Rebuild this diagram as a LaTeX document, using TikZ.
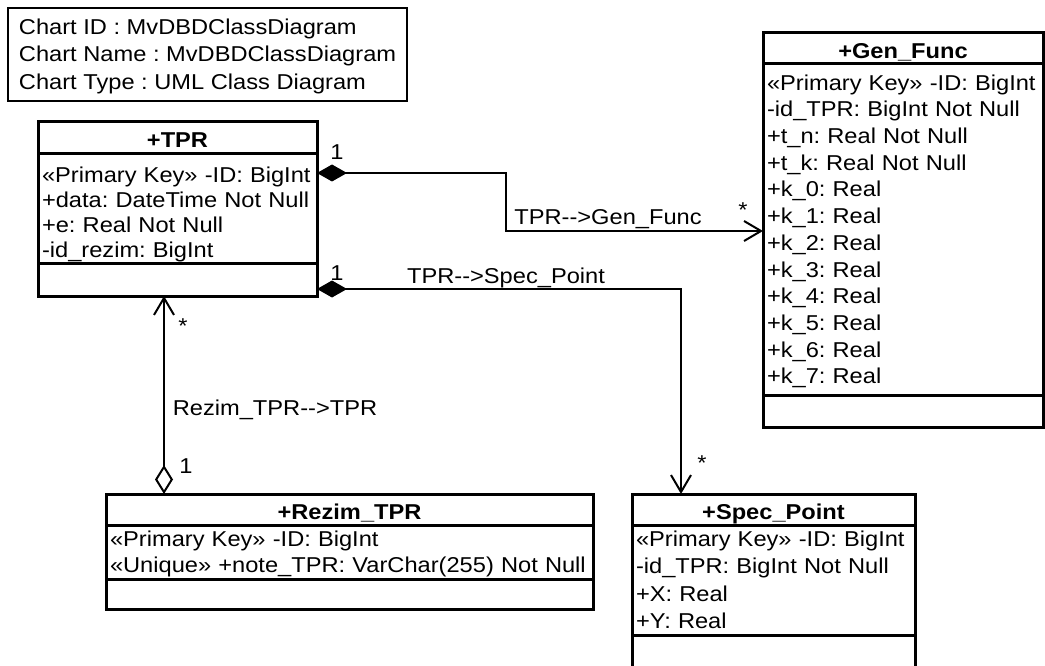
\documentclass[tikz,border=0pt]{standalone}
\usepackage{fontspec}
\setmainfont{Liberation Sans}[FakeStretch=1.1, Ligatures=TeXOff]
\usetikzlibrary{positioning,arrows.meta,calc}
\frenchspacing
\newcommand{\clsrow}{\rule[-5pt]{0pt}{25pt}}
\tikzset{
  chart/.style  ={draw, line width=2pt, align=left, inner xsep=11pt, inner ysep=0pt, minimum height=93pt, anchor=north west, font=\fontsize{21.5}{27.8}\selectfont},
  clshead/.style={draw, line width=3pt, outer sep=0pt, inner sep=0pt, font=\fontsize{21.5}{25}\selectfont\bfseries, text height=20pt, text depth=0pt},
  clsbody/.style={draw, line width=3pt, outer sep=0pt, inner xsep=4pt, inner ysep=0pt, align=left, font=\fontsize{21.5}{#1}\selectfont},
  clsops/.style ={draw, line width=3pt, outer sep=0pt, inner sep=0pt},
  compos/.style ={{Diamond[length=30pt,width=17pt]}-{Straight Barb[length=17pt,width=20pt]}, line width=2pt},
  aggr/.style   ={{Diamond[open,length=29pt,width=18pt]}-{Straight Barb[length=17pt,width=20pt]}, line width=2pt},
  lbl/.style    ={inner sep=0pt, anchor=base},
  star/.style   ={inner sep=0pt, anchor=north},
}

\begin{document}
\begin{tikzpicture}[x=1pt, y=-1pt, font=\fontsize{21.5}{25}\selectfont]
  \clip (0,0) rectangle (1045,666);

  % chart info
  \node[chart] (info) at (7,7) {\clsrow Chart ID : MvDBDClassDiagram\\
    \clsrow Chart Name : MvDBDClassDiagram\\
    \clsrow Chart Type : UML Class Diagram};

  % classes
  \node[clshead, minimum width=279pt, minimum height=32pt] (tprH) at (177.5,138) {+TPR};
  \node[clsbody=25pt, minimum width=279pt, minimum height=109pt, text width=271pt, below=0pt of tprH] (tprA) {%
    \rule{0pt}{28pt}«Primary Key» -ID: BigInt\\
    \clsrow+data: DateTime Not Null\\
    \clsrow+e: Real Not Null\\
    \clsrow-id\_rezim: BigInt};
  \node[clsops, minimum width=279pt, minimum height=33pt, below=0pt of tprA] (tprO) {};

  \node[clshead, minimum width=280pt, minimum height=31pt] (gfH) at (903,48.5) {+Gen\_Func};
  \node[clsbody=26.7pt, minimum width=280pt, minimum height=331pt, text width=272pt, below=0pt of gfH] (gfA) {%
    \clsrow«Primary Key» -ID: BigInt\\
    \clsrow-id\_TPR: BigInt Not Null\\
    \clsrow+t\_n: Real Not Null\\
    \clsrow+t\_k: Real Not Null\\
    \clsrow+k\_0: Real\\
    \clsrow+k\_1: Real\\
    \clsrow+k\_2: Real\\
    \clsrow+k\_3: Real\\
    \clsrow+k\_4: Real\\
    \clsrow+k\_5: Real\\
    \clsrow+k\_6: Real\\
    \clsrow+k\_7: Real};
  \node[clsops, minimum width=280pt, minimum height=32pt, below=0pt of gfA] (gfO) {};

  \node[clshead, minimum width=487pt, minimum height=31pt] (rzH) at (349.5,509.5) {+Rezim\_TPR};
  \node[clsbody=26.5pt, minimum width=487pt, minimum height=54pt, text width=479pt, below=0pt of rzH] (rzA) {%
    \clsrow«Primary Key» -ID: BigInt\\
    \clsrow«Unique» +note\_TPR: VarChar(255) Not Null};
  \node[clsops, minimum width=487pt, minimum height=30pt, below=0pt of rzA] (rzO) {};

  \node[clshead, minimum width=283pt, minimum height=31pt] (spH) at (773.5,509.5) {+Spec\_Point};
  \node[clsbody=27.3pt, minimum width=283pt, minimum height=110pt, text width=275pt, below=0pt of spH] (spA) {%
    \clsrow«Primary Key» -ID: BigInt\\
    \clsrow-id\_TPR: BigInt Not Null\\
    \clsrow+X: Real\\
    \clsrow+Y: Real};
  \node[clsops, minimum width=283pt, minimum height=45pt, below=0pt of spA] (spO) {};

  % associations
  \coordinate (gfFrom) at ($(tprA.north east)+(0,19)$);
  \coordinate (gfTo) at ($(gfA.north west)+(0,167)$);
  \draw[compos] (gfFrom) -- ++(189,0) |- (gfTo);
  \coordinate (spFrom) at ($(tprO.north east)+(0,26)$);
  \draw[compos] (spFrom) -| ($(spH.north)+(-92.5,0)$);
  \draw[aggr] ($(rzH.north west)+(58,0)$) -- ($(tprO.south west)+(126,0)$);

  % labels
  \node[lbl] (lGF) at (608,225) {TPR-->Gen\_Func};
  \node[lbl] (lSP) at (506,283) {TPR-->Spec\_Point};
  \node[lbl] (lRZ) at (275,415) {Rezim\_TPR-->TPR};
  \node[lbl] (m1) at (337,160) {1};
  \node[lbl] (m2) at (337,280) {1};
  \node[lbl] (m3) at (186,473) {1};
  \node[star] (s1) at (743,203) {*};
  \node[star] (s2) at (702,456) {*};
  \node[star] (s3) at (183,319) {*};
\end{tikzpicture}
\end{document}
